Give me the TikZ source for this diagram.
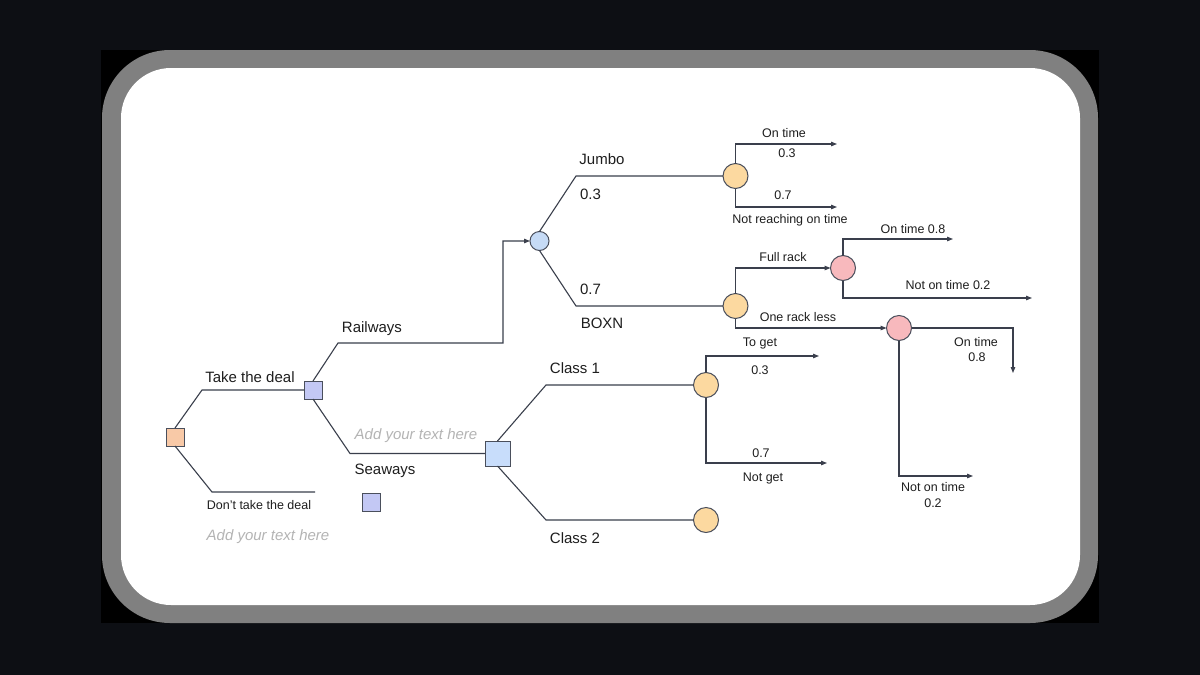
\documentclass[tikz,border=0pt]{standalone}
\usepackage{fontspec}
\setmainfont{Liberation Sans}
\usetikzlibrary{arrows.meta}
\definecolor{bgc}{HTML}{0D0F14}
\definecolor{framec}{HTML}{808080}
\definecolor{linec}{HTML}{3A3F4C}
\definecolor{edgec}{HTML}{4A4F5C}
\definecolor{txt}{HTML}{1E1E1E}
\definecolor{hintc}{HTML}{B4B4B4}
\definecolor{peach}{HTML}{F8C9A7}
\definecolor{lav}{HTML}{C3C8F4}
\definecolor{lblue}{HTML}{C8DDFB}
\definecolor{bcir}{HTML}{C6DBF6}
\definecolor{ocir}{HTML}{FCD9A0}
\definecolor{pcir}{HTML}{F8B9BD}
\begin{document}
\begin{tikzpicture}[x=1pt,y=-1pt,
 conn/.style={draw=linec, line width=1.1pt},
 arr/.style={conn,-{Triangle[length=6pt,width=4.5pt]}},
 sq/.style={draw=edgec, line width=1pt, minimum size=#1, inner sep=0pt, outer sep=0pt},
 cir/.style={circle, draw=edgec, line width=1pt, minimum size=#1, inner sep=0pt, outer sep=0pt},
 big/.style={font=\fontsize{15}{18}\selectfont, text=txt, inner sep=0pt},
 small/.style={font=\fontsize{12.5}{15}\selectfont, text=txt, inner sep=0pt},
 hint/.style={font=\itshape\fontsize{15}{18}\selectfont, text=hintc, inner sep=0pt},
]
% background and frame
\fill[bgc] (0,0) rectangle (1200,675);
\useasboundingbox (0,0) rectangle (1200,675);
\fill[black] (101,50) rectangle (1099,623);
\fill[framec, rounded corners=68pt] (102,50) rectangle (1098,623);
\fill[white, rounded corners=50pt] (121,68) rectangle (1080,605);

% nodes
\node[sq=18pt, fill=peach] (d0) at (175,437) {};
\node[sq=18pt, fill=lav] (s1) at (313,390) {};
\node[sq=18pt, fill=lav] (s2) at (371,502) {};
\node[sq=25pt, fill=lblue] (L) at (497.5,453.5) {};
\node[cir=19pt, fill=bcir] (c0) at (539.5,241) {};
\node[cir=25pt, fill=ocir] (cj) at (735.5,176) {};
\node[cir=25pt, fill=ocir] (cb) at (735.5,306) {};
\node[cir=25pt, fill=pcir] (p1) at (843,268) {};
\node[cir=25pt, fill=pcir] (p2) at (899,328) {};
\node[cir=25pt, fill=ocir] (k1) at (706,385) {};
\node[cir=25pt, fill=ocir] (k2) at (706,520) {};

% coordinates
\coordinate (a1) at (202,390);
\coordinate (a2) at (212,492);
\coordinate (a2e) at (315,492);
\coordinate (r1) at (338,343);
\coordinate (r2) at (503,343);
\coordinate (r3) at (503,241);
\coordinate (e1) at (350,453.5);
\coordinate (j1) at (576,176);
\coordinate (b1) at (576,306);
\coordinate (t1) at (735.5,144);
\coordinate (t1e) at (837,144);
\coordinate (t2) at (735.5,207);
\coordinate (t2e) at (837,207);
\coordinate (f1) at (735.5,268);
\coordinate (f2) at (735.5,328);
\coordinate (g1) at (843,239);
\coordinate (g1e) at (953,239);
\coordinate (g2) at (843,298);
\coordinate (g2e) at (1032,298);
\coordinate (h1) at (1013,328);
\coordinate (h1e) at (1013,373);
\coordinate (h2) at (899,476);
\coordinate (h2e) at (973,476);
\coordinate (m1) at (546,385);
\coordinate (m2) at (546,520);
\coordinate (n1) at (706,356);
\coordinate (n1e) at (819,356);
\coordinate (n2) at (706,463);
\coordinate (n2e) at (827,463);

% connectors
\draw[conn] (d0.north) -- (a1) -- (s1.west);
\draw[conn] (d0.south) -- (a2) -- (a2e);
\draw[arr] (s1.north) -- (r1) -- (r2) -- (r3) -- (c0.west);
\draw[conn] (s1.south) -- (e1) -- (L.west);
\draw[conn] (c0.north) -- (j1) -- (cj.west);
\draw[conn] (c0.south) -- (b1) -- (cb.west);
\draw[arr] (cj.north) -- (t1) -- (t1e);
\draw[arr] (cj.south) -- (t2) -- (t2e);
\draw[arr] (cb.north) -- (f1) -- (p1.west);
\draw[arr] (cb.south) -- (f2) -- (p2.west);
\draw[arr] (p1.north) -- (g1) -- (g1e);
\draw[arr] (p1.south) -- (g2) -- (g2e);
\draw[arr] (p2.east) -- (h1) -- (h1e);
\draw[arr] (p2.south) -- (h2) -- (h2e);
\draw[conn] (L.north) -- (m1) -- (k1.west);
\draw[conn] (L.south) -- (m2) -- (k2.west);
\draw[arr] (k1.north) -- (n1) -- (n1e);
\draw[arr] (k1.south) -- (n2) -- (n2e);

% labels
\node[big] (lt) at (250,377) {Take the deal};
\node[small] (ld) at (259,505) {Don{\char"0027}t take the deal};
\node[hint] (lh2) at (268,537) {Add your text here};
\node[big] (lr) at (372,329) {Railways};
\node[hint] (lh1) at (416,436) {Add your text here};
\node[big] (ls) at (385,471) {Seaways};
\node[big] (lj) at (602,159) {Jumbo};
\node[big] (lj3) at (590.5,194) {0.3};
\node[big] (lb7) at (590.5,289) {0.7};
\node[big] (lb) at (602,323) {BOXN};
\node[small] (o1) at (784,133) {On time};
\node[small] (o1p) at (787,153) {0.3};
\node[small] (o2p) at (783,195) {0.7};
\node[small] (o2) at (790,220) {Not reaching on time};
\node[small] (fr) at (783,257) {Full rack};
\node[small] (or) at (798,317) {One rack less};
\node[small] (q1) at (913,229) {On time 0.8};
\node[small] (q2) at (948,285) {Not on time 0.2};
\node[small] (q3) at (976,342) {On time};
\node[small] (q3p) at (977,357) {0.8};
\node[small] (q4) at (933,487) {Not on time};
\node[small] (q4p) at (933,503) {0.2};
\node[big] (lc1) at (575,368) {Class 1};
\node[big] (lc2) at (575,538) {Class 2};
\node[small] (tg) at (760,343) {To get};
\node[small] (tgp) at (760,370) {0.3};
\node[small] (ngp) at (761,453) {0.7};
\node[small] (ng) at (763,478) {Not get};
\end{tikzpicture}
\end{document}
